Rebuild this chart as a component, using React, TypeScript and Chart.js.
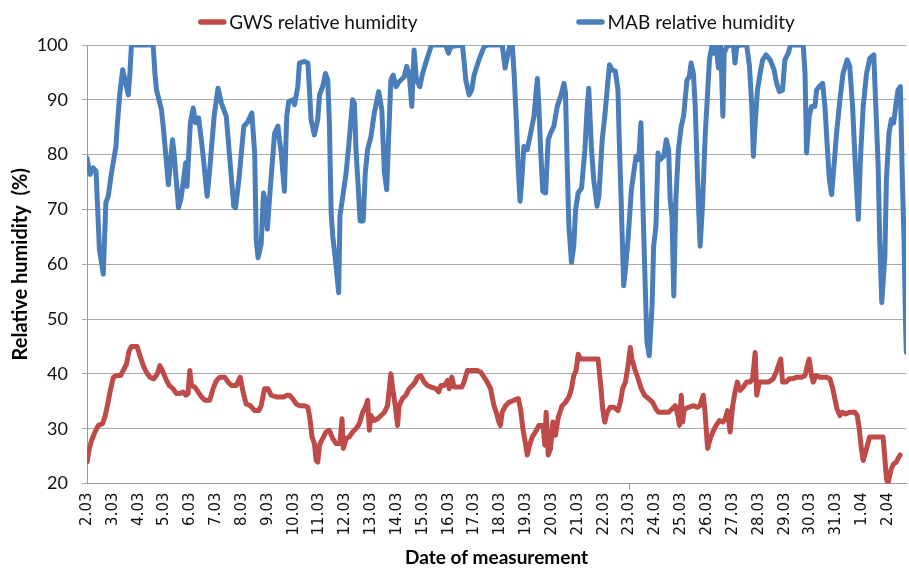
import React, { useEffect, useRef } from "react";
import { Chart, registerables } from "chart.js";

Chart.register(...registerables);

// ---- data -------------------------------------------------------------
const dateLabels = [
  "2.03", "3.03", "4.03", "5.03", "6.03", "7.03", "8.03", "9.03", "10.03", "11.03",
  "12.03", "13.03", "14.03", "15.03", "16.03", "17.03", "18.03", "19.03", "20.03", "21.03",
  "22.03", "23.03", "24.03", "25.03", "26.03", "27.03", "28.03", "29.03", "30.03", "31.03",
  "1.04", "2.04",
];

const seriesNames = ["GWS relative humidity", "MAB relative humidity"];
const yAxisTitle = "Relative humidity  (%)";
const xAxisTitle = "Date of measurement";

// time in days since 2.03 (00:00), relative humidity in %
const mabDays = [
  0.0, 0.12, 0.24, 0.35, 0.48, 0.63, 0.73, 0.82, 0.95, 1.12, 1.17, 1.27, 1.38, 1.47, 1.6, 1.66, 1.72, 2.56,
  2.63, 2.69, 2.88, 2.95, 3.1, 3.15, 3.31, 3.37, 3.54, 3.63, 3.72, 3.82, 3.87, 4.0, 4.11, 4.2, 4.32, 4.47,
  4.65, 4.75, 4.92, 5.07, 5.2, 5.39, 5.55, 5.68, 5.75, 5.88, 6.07, 6.2, 6.38, 6.49, 6.55, 6.62, 6.74, 6.83,
  6.91, 6.98, 7.07, 7.26, 7.39, 7.45, 7.52, 7.64, 7.73, 7.81, 7.97, 8.03, 8.16, 8.22, 8.42, 8.55, 8.61, 8.67,
  8.8, 8.93, 9.0, 9.12, 9.23, 9.32, 9.38, 9.45, 9.51, 9.64, 9.74, 9.79, 9.9, 10.03, 10.15, 10.28, 10.35,
  10.41, 10.48, 10.57, 10.69, 10.77, 10.86, 10.99, 11.12, 11.29, 11.41, 11.51, 11.6, 11.67, 11.76, 11.85,
  11.96, 12.08, 12.28, 12.37, 12.47, 12.57, 12.66, 12.75, 12.88, 12.99, 13.11, 13.31, 13.37, 13.88, 13.99,
  14.08, 14.53, 14.59, 14.66, 14.79, 14.89, 14.98, 15.17, 15.37, 15.5, 16.07, 16.18, 16.27, 16.36, 16.46,
  16.53, 16.62, 16.69, 16.76, 16.82, 16.91, 17.04, 17.17, 17.3, 17.43, 17.49, 17.55, 17.64, 17.75, 17.85,
  17.94, 18.07, 18.2, 18.33, 18.46, 18.52, 18.59, 18.65, 18.75, 18.84, 18.91, 19.01, 19.14, 19.27, 19.36,
  19.42, 19.52, 19.61, 19.74, 19.81, 19.94, 20.04, 20.13, 20.22, 20.32, 20.45, 20.55, 20.6, 20.68, 20.77,
  20.84, 20.94, 21.07, 21.16, 21.25, 21.35, 21.44, 21.51, 21.59, 21.67, 21.76, 21.87, 21.93, 22.02, 22.1,
  22.19, 22.32, 22.42, 22.51, 22.57, 22.64, 22.71, 22.79, 22.89, 23.0, 23.09, 23.22, 23.31, 23.38, 23.47,
  23.54, 23.64, 23.73, 23.82, 23.93, 23.99, 24.09, 24.18, 24.27, 24.35, 24.44, 24.53, 24.61, 24.66, 24.76,
  24.89, 25.02, 25.08, 25.15, 25.28, 25.53, 25.64, 25.73, 25.79, 25.86, 25.95, 26.05, 26.15, 26.28, 26.44,
  26.59, 26.69, 26.8, 26.92, 27.01, 27.14, 27.23, 27.72, 27.79, 27.85, 27.95, 28.04, 28.17, 28.24, 28.34,
  28.47, 28.56, 28.65, 28.73, 28.82, 28.91, 29.01, 29.14, 29.26, 29.42, 29.52, 29.63, 29.72, 29.85, 29.94,
  30.04, 30.17, 30.3, 30.45, 30.53, 30.62, 30.68, 30.76, 30.88, 30.94, 31.04, 31.13, 31.22, 31.3, 31.39,
  31.48, 31.55, 31.62, 31.68, 31.71,
];
const mabRH = [
  79.4, 76.4, 77.6, 77.0, 62.7, 58.2, 71.2, 72.4, 76.7, 81.5, 85.2, 91.2, 95.5, 93.6, 90.9, 94.8, 100, 100,
  94.8, 91.8, 88.2, 85.2, 77.3, 74.5, 82.7, 80.3, 70.3, 71.8, 74.8, 78.5, 74.2, 85.8, 88.5, 85.8, 86.7, 80.9,
  72.4, 77.3, 87.0, 92.1, 89.4, 87.0, 77.9, 70.6, 70.3, 75.5, 85.2, 85.8, 87.6, 80.3, 64.5, 61.2, 63.6, 73.0,
  71.2, 66.4, 72.4, 83.9, 85.2, 82.7, 80.3, 73.3, 87.0, 89.7, 90.0, 89.1, 92.4, 96.7, 97.0, 96.7, 91.8, 86.4,
  83.6, 86.4, 90.9, 92.4, 94.8, 93.6, 85.8, 69.4, 65.2, 59.7, 54.8, 68.8, 72.4, 76.7, 82.7, 90.0, 89.4,
  80.9, 75.5, 67.9, 67.9, 76.7, 80.9, 83.3, 87.6, 91.5, 88.2, 76.7, 73.6, 82.7, 93.6, 94.5,
  92.4, 93.3, 94.2, 96.1, 94.8, 88.8, 99.1, 93.6, 92.4, 94.8, 96.7, 99.7, 100, 100, 98.5,
  99.7, 100, 97.3, 93.6, 90.9, 91.8, 94.5, 97.3, 99.7, 100, 100, 95.8, 97.9, 99.7, 100,
  94.8, 85.8, 77.3, 71.5, 74.8, 81.5, 80.9, 83.9, 87.0, 93.9, 88.8, 81.5, 73.3, 73.0, 82.7,
  83.9, 85.2, 88.8, 90.6, 93.0, 91.2, 77.3, 67.0, 60.3, 63.3, 70.0, 73.0, 73.9, 80.9, 88.8,
  92.1, 81.5, 75.5, 70.6, 72.4, 82.7, 87.0, 91.8, 96.4, 95.5, 95.2, 91.8, 82.7, 70.6, 56.1,
  59.1, 64.5, 73.6, 76.7, 79.7, 79.1, 85.8, 71.8, 58.5, 45.8, 43.3, 52.4, 63.3, 67.0, 80.3,
  79.1, 79.7, 82.7, 80.9, 71.8, 68.8, 54.2, 71.8, 80.9, 85.2, 87.0, 93.6, 94.2, 96.7, 94.8,
  88.8, 74.2, 63.3, 70.6, 83.9, 88.8, 97.3, 99.7, 98.5, 99.7, 95.8, 99.7, 87.0, 98.5, 99.7,
  100, 100, 96.7, 99.7, 100, 100, 96.1, 88.8, 79.7, 85.8, 91.8, 94.8, 97.3, 98.2, 97.3,
  95.5, 93.0, 91.5, 91.8, 97.3, 98.5, 100, 100, 94.8, 80.3, 87.0, 88.8, 88.8, 91.8, 92.4,
  93.0, 88.8, 81.5, 75.5, 72.7, 77.9, 83.9, 90.0, 94.8, 97.3, 96.1, 88.8, 79.7, 68.2, 79.7,
  88.8, 94.8, 97.6, 98.2, 88.8, 77.9, 64.5, 53.0, 61.5, 75.5, 83.9, 86.4, 85.8, 88.8, 91.8,
  92.4, 76.7, 64.5, 49.2, 43.9,
];

const gwsDays = [
  0.0, 0.09, 0.18, 0.31, 0.44, 0.6, 0.69, 0.79, 0.89, 1.02, 1.15, 1.3, 1.4, 1.53, 1.63, 1.72, 1.94, 2.05,
  2.18, 2.3, 2.43, 2.59, 2.72, 2.82, 2.92, 3.05, 3.18, 3.33, 3.46, 3.59, 3.72, 3.82, 3.91, 3.98, 4.04, 4.17,
  4.3, 4.43, 4.56, 4.75, 4.88, 5.01, 5.14, 5.33, 5.46, 5.59, 5.78, 5.93, 6.04, 6.16, 6.32, 6.49, 6.65, 6.74,
  6.87, 7.0, 7.13, 7.32, 7.45, 7.61, 7.74, 7.84, 7.97, 8.1, 8.22, 8.42, 8.55, 8.63, 8.71, 8.8, 8.87, 8.93,
  9.0, 9.12, 9.25, 9.38, 9.51, 9.64, 9.79, 9.87, 9.92, 10.03, 10.15, 10.28, 10.41, 10.54, 10.67, 10.8, 10.86,
  10.93, 10.99, 11.12, 11.25, 11.38, 11.51, 11.63, 11.76, 11.83, 11.93, 12.02, 12.08, 12.21, 12.34, 12.47,
  12.6, 12.7, 12.79, 12.92, 13.05, 13.18, 13.31, 13.5, 13.61, 13.7, 13.83, 13.96, 14.02, 14.12, 14.21, 14.34,
  14.51, 14.59, 14.72, 14.85, 15.11, 15.24, 15.37, 15.49, 15.62, 15.75, 15.84, 15.94, 16.0, 16.07, 16.2,
  16.33, 16.53, 16.69, 16.78, 16.87, 16.98, 17.04, 17.13, 17.23, 17.36, 17.49, 17.65, 17.72, 17.77, 17.85,
  17.94, 18.03, 18.13, 18.24, 18.39, 18.52, 18.65, 18.75, 18.84, 18.93, 19.01, 19.1, 19.29, 19.55, 19.78,
  19.87, 19.96, 20.04, 20.13, 20.25, 20.39, 20.55, 20.64, 20.73, 20.84, 20.94, 21.03, 21.09, 21.2, 21.33,
  21.45, 21.58, 21.73, 21.89, 22.02, 22.12, 22.32, 22.51, 22.64, 22.77, 22.87, 22.93, 23.0, 23.05, 23.12,
  23.28, 23.47, 23.63, 23.72, 23.85, 23.91, 24.02, 24.12, 24.22, 24.35, 24.48, 24.61, 24.7, 24.79, 24.89,
  24.99, 25.08, 25.17, 25.28, 25.4, 25.53, 25.66, 25.76, 25.86, 25.92, 26.02, 26.15, 26.37, 26.56, 26.67,
  26.76, 26.85, 26.92, 27.05, 27.18, 27.31, 27.47, 27.66, 27.79, 27.88, 27.95, 28.04, 28.11, 28.21, 28.36,
  28.62, 28.75, 28.85, 28.94, 29.03, 29.14, 29.24, 29.37, 29.52, 29.72, 29.81, 29.88, 29.97, 30.04, 30.1,
  30.19, 30.29, 30.45, 30.68, 30.81, 30.87, 30.94, 31.0, 31.07, 31.13, 31.22, 31.32, 31.42, 31.47,
];
const gwsRH = [
  23.9, 26.4, 27.9, 29.4, 30.6, 30.9, 32.1, 34.2, 36.7, 39.4, 39.7, 39.7, 40.6, 41.8, 44.2, 45.0, 45.0, 43.3,
  41.5, 40.3, 39.4, 39.1, 40.0, 41.5, 40.6, 39.1, 37.9, 37.3, 36.4, 36.4, 36.7, 36.1, 36.4, 40.6, 37.9, 37.6,
  36.7, 35.8, 35.2, 35.2, 37.3, 38.8, 39.4, 39.4, 38.5, 37.9, 37.9, 39.4, 36.7, 34.5, 34.2, 33.3, 33.3, 34.2,
  37.3, 37.3, 36.1, 35.8, 35.8, 35.8, 36.1, 36.1, 35.4, 34.5, 34.2, 34.2, 33.9, 31.8, 28.5, 27.3, 24.2, 23.9,
  27.0, 28.2, 29.4, 29.7, 28.2, 27.3, 27.3, 31.8, 26.4, 28.2, 28.5, 29.4, 30.0, 30.9, 33.0, 34.2, 35.2,
  29.7, 32.4, 31.5, 31.8, 32.4, 33.0, 34.2, 40.0, 37.3, 34.2, 30.6, 34.2, 35.5, 36.1, 37.3,
  37.9, 38.5, 39.4, 39.7, 38.5, 37.9, 37.6, 37.3, 36.7, 37.9, 37.9, 38.8, 37.3, 39.4, 37.6, 37.6,
  37.6, 38.5, 40.6, 40.6, 40.6, 40.3, 39.4, 38.5, 37.3, 34.2, 33.0, 31.2, 30.6, 33.0, 34.2,
  34.8, 35.2, 35.5, 33.6, 30.0, 27.0, 25.2, 27.0, 28.5, 29.4, 30.6, 30.6, 27.0, 33.0, 25.2,
  26.4, 31.2, 28.8, 32.1, 34.2, 34.8, 35.8, 37.3, 39.7, 40.6, 43.6, 42.7, 42.7, 42.7, 42.7,
  38.5, 33.6, 31.2, 33.0, 33.9, 33.9, 33.3, 34.8, 37.3, 38.5, 41.5, 44.8, 42.7, 40.9, 39.1,
  37.3, 36.1, 35.5, 34.8, 33.6, 33.0, 33.0, 33.0, 33.6, 34.2, 32.4, 30.6, 36.1, 31.2, 33.6,
  33.9, 34.2, 33.9, 34.2, 36.1, 33.6, 26.4, 28.2, 29.4, 30.6, 31.5, 31.2, 31.8, 33.3, 29.4,
  34.2, 36.7, 38.5, 37.0, 37.6, 38.5, 38.5, 39.1, 43.9, 36.1, 38.5, 38.5, 38.5, 39.1, 40.3,
  41.5, 42.7, 38.5, 38.5, 39.1, 39.1, 39.4, 39.4, 39.7, 41.5, 42.7, 39.7, 38.5, 39.7, 39.4,
  39.4, 39.1, 37.6, 35.5, 33.6, 32.4, 33.0, 32.7, 33.0, 33.0, 32.4, 30.3, 26.4, 24.2, 25.2,
  26.7, 28.5, 28.5, 28.5, 28.5, 25.2, 20.9, 20.0, 21.5, 22.7, 23.6, 23.9, 24.8, 25.2,
];

// ---- styling ------------------------------------------------------------
const RED = "#be4b48";
const BLUE = "#4a7ebb";
const GRID = "#a9a9a9";
const AXIS = "#9a9a9a";

const topLegend = {
  id: "topLegend",
  afterDraw(chart: any) {
    const { ctx, chartArea } = chart;
    ctx.save();
    ctx.font = "19px Lato";
    const sample = 28;
    const gapText = 3;
    const gapItems = 159;
    const items = chart.data.datasets.map((ds: any) => ({
      text: ds.label,
      color: ds.borderColor,
      w: sample + gapText + ctx.measureText(ds.label).width,
    }));
    const total = items.reduce((s: number, it: any) => s + it.w, 0) + gapItems * (items.length - 1);
    let x = (chartArea.left + chartArea.right) / 2 - total / 2;
    const y = 22;
    items.forEach((it: any) => {
      ctx.strokeStyle = it.color;
      ctx.lineWidth = 5.5;
      ctx.lineCap = "round";
      ctx.beginPath();
      ctx.moveTo(x + 2.5, y);
      ctx.lineTo(x + sample - 2.5, y);
      ctx.stroke();
      ctx.fillStyle = "#111";
      ctx.textAlign = "left";
      ctx.textBaseline = "middle";
      ctx.fillText(it.text, x + sample + gapText, y + 1);
      x += it.w + gapItems;
    });
    ctx.restore();
  },
};

export default function App() {
  const canvasRef = useRef<HTMLCanvasElement | null>(null);

  useEffect(() => {
    if (!canvasRef.current) return;
    const chart = new Chart(canvasRef.current, {
      type: "line",
      data: {
        datasets: [
          {
            label: seriesNames[0],
            data: gwsDays.map((d, i) => ({ x: d, y: gwsRH[i] })),
            borderColor: RED,
            backgroundColor: RED,
          },
          {
            label: seriesNames[1],
            data: mabDays.map((d, i) => ({ x: d, y: mabRH[i] })),
            borderColor: BLUE,
            backgroundColor: BLUE,
          },
        ],
      },
      options: {
        responsive: false,
        animation: false,
        layout: { padding: { top: 45, right: 1, left: 0, bottom: 0 } },
        plugins: { legend: { display: false }, tooltip: { enabled: false } },
        elements: {
          point: { radius: 0, hoverRadius: 0 },
          line: { borderWidth: 5, tension: 0, borderJoinStyle: "round", borderCapStyle: "round" },
        },
        scales: {
          x: {
            type: "linear",
            min: 0,
            max: 31.7,
            afterBuildTicks: (s: any) => {
              s.ticks = dateLabels.map((_, i) => ({ value: i }));
            },
            afterFit: (s: any) => {
              s.height = 85.5;
            },
            grid: {
              drawOnChartArea: false,
              drawTicks: true,
              tickLength: 6,
              lineWidth: 1,
              color: (c: any) => (c.tick && c.tick.value === 21 ? AXIS : "rgba(0,0,0,0)"),
            },
            border: { display: true, color: AXIS, width: 1 },
            ticks: {
              autoSkip: false,
              maxRotation: 90,
              minRotation: 90,
              padding: 3,
              color: "#111",
              font: { family: "DejaVu Sans", size: 15 },
              callback: (_v: any, i: number) => dateLabels[i] ?? "",
            },
            title: {
              display: true,
              text: xAxisTitle,
              color: "#000",
              font: { family: "Lato", size: 19, weight: "bold" },
              padding: { top: 0, bottom: 0 },
            },
          },
          y: {
            min: 20,
            max: 100,
            afterFit: (s: any) => {
              s.width = 87;
            },
            ticks: {
              stepSize: 10,
              padding: 14,
              color: "#111",
              font: { family: "Lato", size: 18 },
            },
            grid: { color: GRID, tickLength: 5, lineWidth: 1 },
            border: { display: true, color: AXIS, width: 1 },
            title: {
              display: true,
              text: yAxisTitle,
              color: "#000",
              font: { family: "Lato", size: 20, weight: "bold" },
              padding: { top: 9, bottom: 0 },
            },
          },
        },
      },
      plugins: [topLegend],
    } as any);
    return () => chart.destroy();
  }, []);

  return (
    <div style={{ position: "absolute", left: 0, top: 0, width: 909, height: 569, background: "#fff" }}>
      <canvas ref={canvasRef} width={909} height={569} style={{ display: "block" }} />
    </div>
  );
}
